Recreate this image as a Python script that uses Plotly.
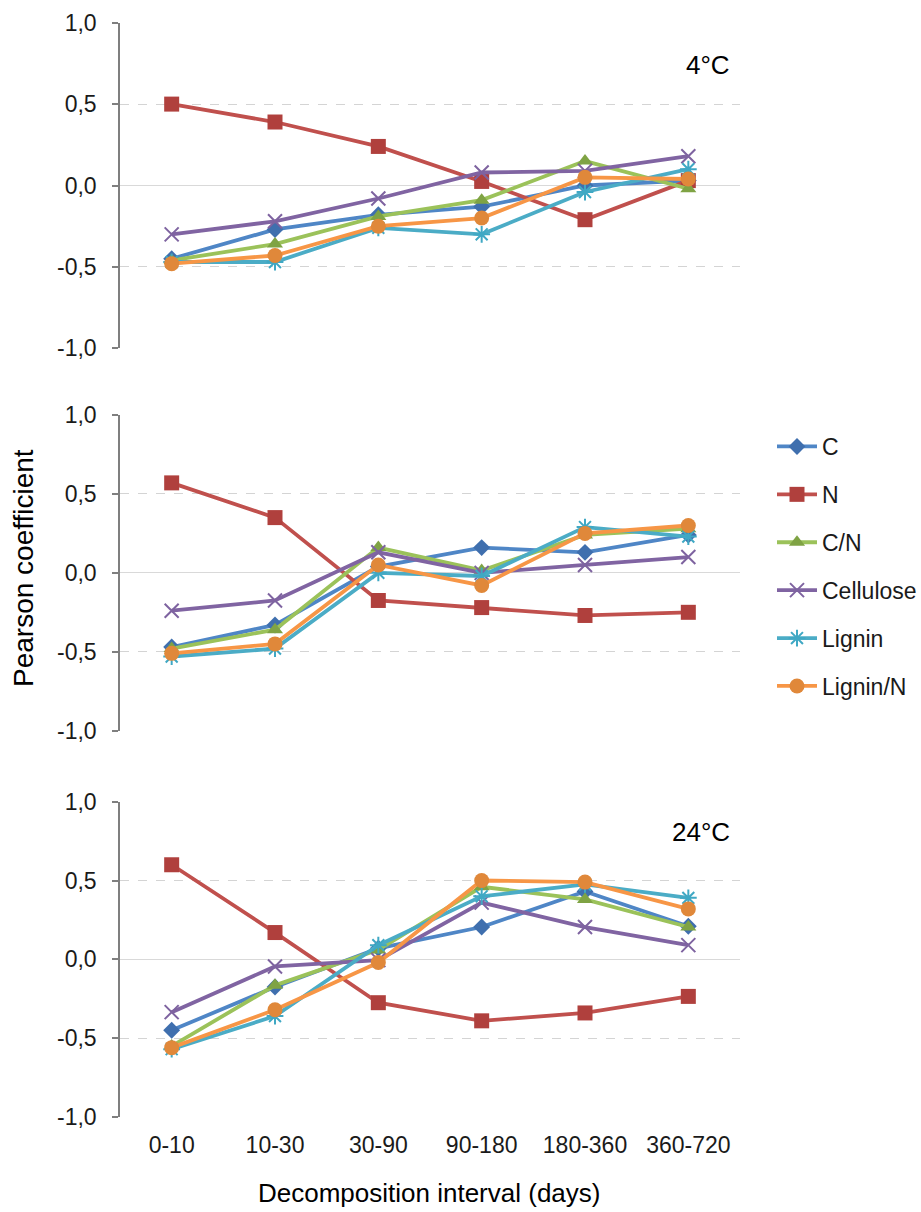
import plotly.graph_objects as go

categories = ["0-10", "10-30", "30-90", "90-180", "180-360", "360-720"]
panels = ["4°C", "14°C", "24°C"]
series_names = ["C", "N", "C/N", "Cellulose", "Lignin", "Lignin/N"]

# values per panel (4°C, 14°C, 24°C)
C_vals = [
    [-0.45, -0.27, -0.18, -0.13, 0.00, 0.03],
    [-0.47, -0.33, 0.04, 0.16, 0.13, 0.24],
    [-0.45, -0.175, 0.07, 0.205, 0.43, 0.21],
]
N_vals = [
    [0.50, 0.39, 0.24, 0.025, -0.21, 0.03],
    [0.57, 0.35, -0.175, -0.22, -0.27, -0.25],
    [0.60, 0.17, -0.275, -0.39, -0.34, -0.235],
]
CN_vals = [
    [-0.46, -0.36, -0.19, -0.09, 0.15, -0.02],
    [-0.48, -0.36, 0.16, 0.015, 0.24, 0.28],
    [-0.55, -0.165, 0.06, 0.46, 0.38, 0.205],
]
Cell_vals = [
    [-0.30, -0.22, -0.08, 0.08, 0.09, 0.18],
    [-0.24, -0.175, 0.13, 0.00, 0.05, 0.10],
    [-0.335, -0.045, -0.005, 0.36, 0.205, 0.09],
]
Lig_vals = [
    [-0.47, -0.47, -0.26, -0.30, -0.04, 0.10],
    [-0.53, -0.48, 0.00, -0.02, 0.29, 0.23],
    [-0.57, -0.36, 0.09, 0.40, 0.475, 0.39],
]
LigN_vals = [
    [-0.48, -0.43, -0.25, -0.20, 0.05, 0.04],
    [-0.51, -0.45, 0.05, -0.08, 0.25, 0.30],
    [-0.56, -0.32, -0.02, 0.50, 0.49, 0.32],
]
panel_label_y = [0.74, 1.20, 0.81]

tick_vals = [-1.0, -0.5, 0.0, 0.5, 1.0]
tick_text = ["-1,0", "-0,5", "0,0", "0,5", "1,0"]

all_vals = [C_vals, N_vals, CN_vals, Cell_vals, Lig_vals, LigN_vals]
line_colors = ["#4F86C6", "#C0504D", "#9BC25A", "#8064A2", "#4BACC6", "#F79646"]
marker_colors = ["#3F6FAE", "#B0403D", "#7FA344", "#7E63A0", "#3FA8C4", "#E0883A"]
symbols = ["diamond", "square", "triangle-up", "x-thin-open", "asterisk-open", "circle"]
msizes = [13, 15, 14, 14, 14, 15]

W, H = 921, 1212
x0, x1 = 120 / W, 740 / W
doms = [(22.7, 348.3), (415.0, 730.7), (801.7, 1117.0)]

fig = go.Figure()
font = "Liberation Sans, Arial, sans-serif"

for p in range(3):
    xa = "x" if p == 0 else f"x{p+1}"
    ya = "y" if p == 0 else f"y{p+1}"
    for s in range(6):
        sym = symbols[s]
        open_sym = sym.endswith("-open")
        marker = dict(symbol=sym, size=msizes[s], color=marker_colors[s])
        if open_sym:
            marker["line"] = dict(color=marker_colors[s], width=2)
        else:
            marker["line"] = dict(width=0)
        fig.add_trace(go.Scatter(
            x=categories, y=all_vals[s][p], name=series_names[s],
            mode="lines+markers", xaxis=xa, yaxis=ya,
            line=dict(color=line_colors[s], width=3.8),
            marker=marker, legendgroup=series_names[s],
            showlegend=(p == 0), cliponaxis=False,
        ))

layout = dict(
    width=W, height=H,
    margin=dict(l=0, r=0, t=0, b=0, pad=0, autoexpand=False),
    paper_bgcolor="white", plot_bgcolor="white",
    font=dict(family=font, size=23, color="#1a1a1a"),
    legend=dict(x=772 / W, y=1 - 425 / H, xanchor="left", yanchor="top",
                traceorder="grouped", tracegroupgap=15,
                font=dict(size=23, color="#1a1a1a"), itemwidth=40,
                bgcolor="rgba(0,0,0,0)"),
    showlegend=True,
)

for p in range(3):
    top, bot = doms[p]
    xk = "xaxis" if p == 0 else f"xaxis{p+1}"
    yk = "yaxis" if p == 0 else f"yaxis{p+1}"
    ya = "y" if p == 0 else f"y{p+1}"
    xa = "x" if p == 0 else f"x{p+1}"
    layout[xk] = dict(
        domain=[x0, x1], anchor=ya, type="category", automargin=False,
        categoryorder="array", categoryarray=categories,
        range=[-0.5, 5.5], showgrid=False, zeroline=False, showline=False,
        showticklabels=(p == 2), ticks="", tickfont=dict(size=23),
        ticklabelstandoff=12,
    )
    layout[yk] = dict(
        domain=[1 - bot / H, 1 - top / H], anchor=xa, automargin=False,
        range=[-1.0, 1.0], tickvals=tick_vals, ticktext=tick_text,
        showgrid=True, gridcolor="#d4d4d4", griddash="dash", gridwidth=1,
        zeroline=True, zerolinecolor="#d9d9d9", zerolinewidth=1,
        showline=True, linecolor="#7f7f7f", linewidth=1.5,
        ticks="outside", ticklen=6, tickcolor="#7f7f7f", tickwidth=1.5,
        tickfont=dict(size=23), ticklabelstandoff=11,
    )

fig.update_layout(**layout)

for p in range(3):
    ya = "y" if p == 0 else f"y{p+1}"
    fig.add_annotation(text=panels[p], xref="paper", yref=ya,
                       x=732 / W, y=panel_label_y[p], xanchor="right",
                       yanchor="middle", showarrow=False,
                       font=dict(size=26, color="#000000"))

fig.add_annotation(text="Pearson coefficient", xref="paper", yref="paper",
                   x=23 / W, y=1 - 568 / H, textangle=-90, showarrow=False,
                   xanchor="center", yanchor="middle",
                   font=dict(size=28, color="#000000"))
fig.add_annotation(text="Decomposition interval (days)", xref="paper", yref="paper",
                   x=429 / W, y=1 - 1193 / H, showarrow=False,
                   xanchor="center", yanchor="middle",
                   font=dict(size=26, color="#000000"))

fig.write_html("out.html")
